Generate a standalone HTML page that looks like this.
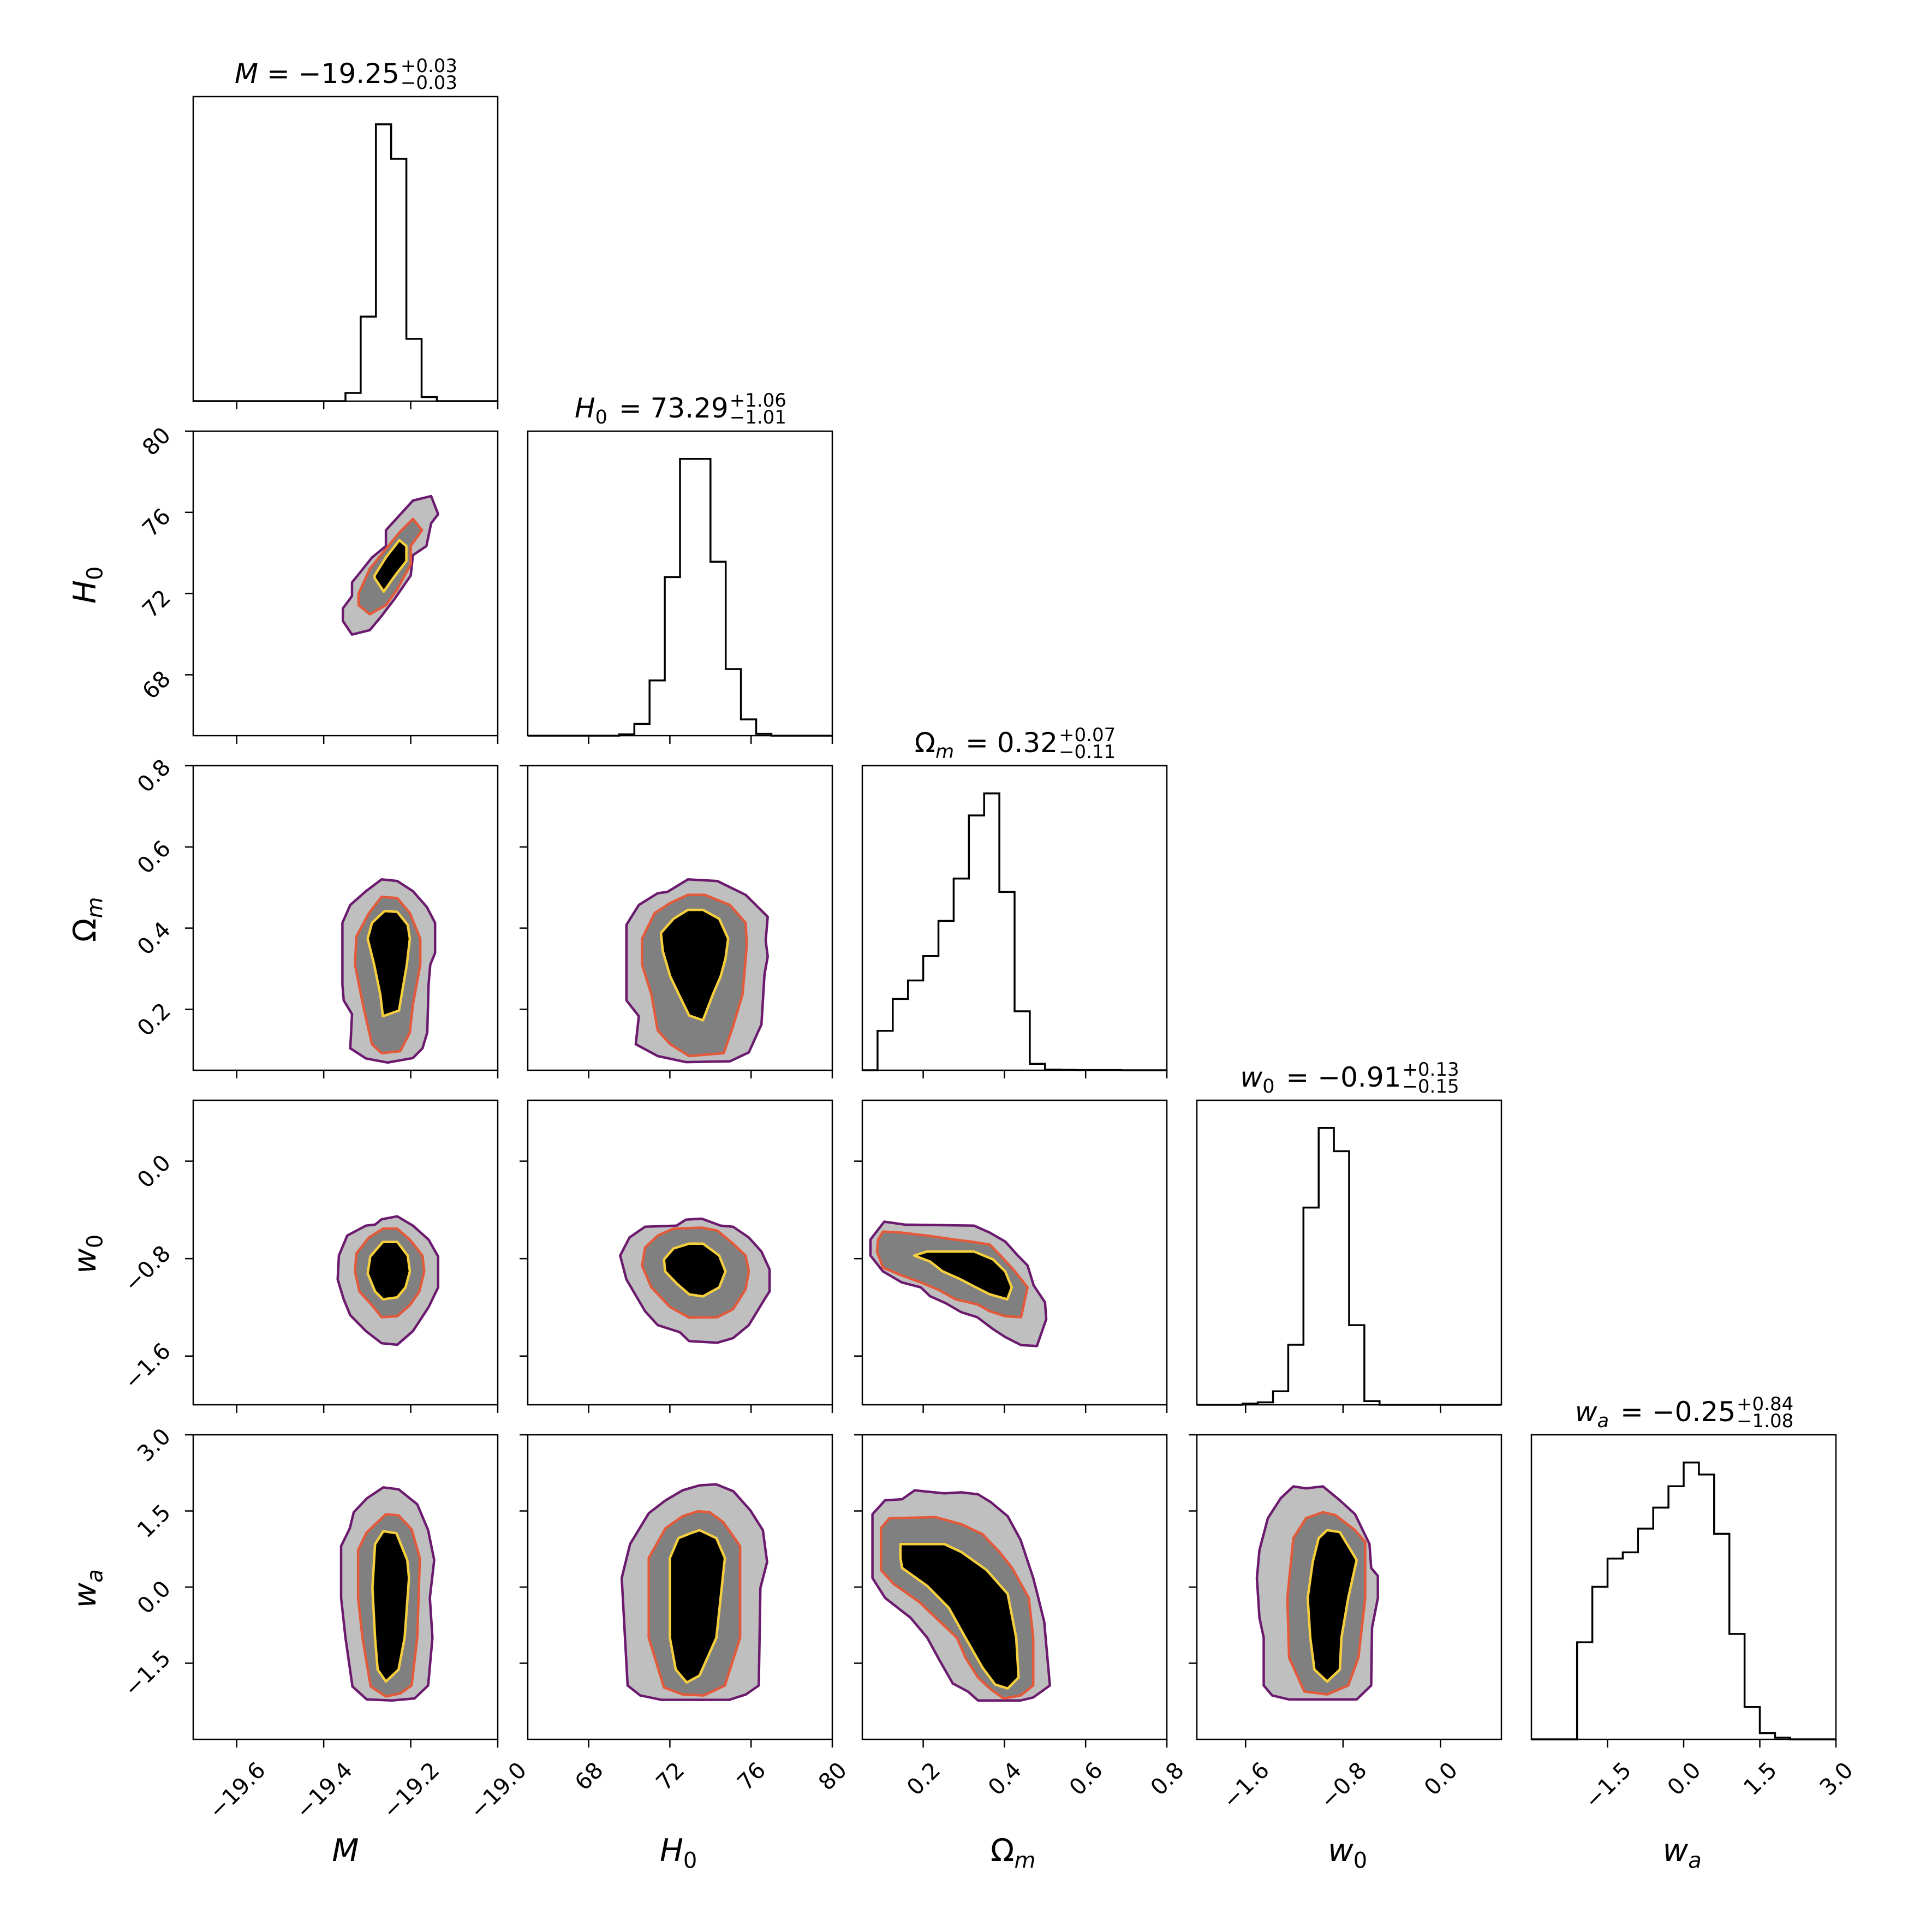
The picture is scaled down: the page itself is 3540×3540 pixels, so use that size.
<!DOCTYPE html>
<html><head><meta charset="utf-8"><style>
html,body{margin:0;padding:0;background:#fff;}
svg{display:block;font-family:"DejaVu Sans","Liberation Sans",sans-serif;}
</style></head><body>
<svg id="fig" xmlns="http://www.w3.org/2000/svg" width="3540" height="3540" viewBox="0 0 3540 3540">
<rect width="3540" height="3540" fill="#fff"/>
</svg>
<script>
// ---------- data ----------
const paramNames = ['M','H0','Om','w0','wa'];
const rangeMin = [-19.7, 65, 0.05, -2.0, -3.0];
const rangeMax = [-19.0, 80, 0.8, 0.5, 3.0];
const ticksM = [-19.6,-19.4,-19.2,-19.0];
const ticksH0 = [68,72,76,80];
const ticksOm = [0.2,0.4,0.6,0.8];
const ticksW0 = [-1.6,-0.8,0.0];
const ticksWa = [-1.5,0.0,1.5,3.0];
const tickLabelsM = ['\u221219.6','\u221219.4','\u221219.2','\u221219.0'];
const tickLabelsH0 = ['68','72','76','80'];
const tickLabelsOm = ['0.2','0.4','0.6','0.8'];
const tickLabelsW0 = ['\u22121.6','\u22120.8','0.0'];
const tickLabelsWa = ['\u22121.5','0.0','1.5','3.0'];
const histM = [0,0,0,0,0,0,0,0,0,0,18,186,609,533,137,9,0,0,0,0];
const histH0 = [0,0,0,0,0,0,3,26,122,350,611,611,384,147,36,4,0,0,0,0];
const histOm = [0,202,365,460,585,765,982,1305,1418,913,302,33,3,2,1,1,1,0,0,0];
const histW0 = [0,0,0,1,2,11,49,161,226,207,65,3,0,0,0,0,0,0,0,0];
const histWa = [0,0,0,282,443,525,543,612,673,735,804,769,597,306,94,18,5,0,0,0];
const titleValues = ['\u221219.25','73.29','0.32','\u22120.91','\u22120.25'];
const titleUpper = ['+0.03','+1.06','+0.07','+0.13','+0.84'];
const titleLower = ['\u22120.03','\u22121.01','\u22120.11','\u22120.15','\u22121.08'];

// contours [x,y] in data units; key row_col
const cH0M_outer=[[-19.356,71.27],[-19.335,71.88],[-19.335,72.55],[-19.322,72.89],[-19.289,73.78],[-19.257,74.34],[-19.257,75.12],[-19.195,76.58],[-19.153,76.80],[-19.137,75.91],[-19.153,75.46],[-19.164,74.34],[-19.195,73.89],[-19.200,72.89],[-19.236,71.77],[-19.268,70.87],[-19.294,70.20],[-19.335,69.98],[-19.356,70.65]];
const cH0M_mid=[[-19.320,71.99],[-19.294,73.22],[-19.226,75.01],[-19.195,75.68],[-19.174,75.12],[-19.200,74.34],[-19.200,73.44],[-19.231,72.21],[-19.257,71.43],[-19.294,70.98],[-19.320,71.43]];
const cH0M_in=[[-19.283,72.89],[-19.257,73.78],[-19.226,74.63],[-19.210,74.34],[-19.210,73.60],[-19.236,72.89],[-19.262,72.10],[-19.283,72.77]];

const cOmM_outer=[[-19.267,0.520],[-19.231,0.516],[-19.195,0.491],[-19.163,0.452],[-19.144,0.413],[-19.144,0.339],[-19.155,0.310],[-19.159,0.261],[-19.162,0.143],[-19.173,0.104],[-19.195,0.080],[-19.253,0.069],[-19.303,0.079],[-19.339,0.104],[-19.335,0.188],[-19.354,0.222],[-19.357,0.261],[-19.357,0.413],[-19.339,0.457],[-19.303,0.491]];
const cOmM_mid=[[-19.267,0.477],[-19.231,0.474],[-19.202,0.437],[-19.178,0.374],[-19.178,0.310],[-19.195,0.212],[-19.202,0.143],[-19.224,0.097],[-19.267,0.092],[-19.289,0.114],[-19.310,0.212],[-19.328,0.310],[-19.325,0.379],[-19.296,0.437]];
const cOmM_in=[[-19.260,0.442],[-19.231,0.440],[-19.207,0.408],[-19.202,0.374],[-19.209,0.310],[-19.227,0.197],[-19.264,0.183],[-19.270,0.237],[-19.284,0.310],[-19.299,0.374],[-19.289,0.413]];

const cOmH0_outer=[[72.89,0.520],[74.34,0.516],[75.73,0.482],[76.82,0.428],[76.72,0.369],[76.82,0.330],[76.66,0.286],[76.51,0.163],[75.89,0.094],[74.96,0.072],[72.79,0.070],[71.40,0.085],[70.32,0.114],[70.47,0.183],[69.86,0.222],[69.86,0.408],[70.47,0.457],[71.40,0.486],[71.87,0.489]];
const cOmH0_mid=[[72.89,0.482],[73.72,0.482],[74.96,0.457],[75.73,0.413],[75.79,0.359],[75.58,0.237],[75.11,0.158],[74.65,0.092],[72.95,0.085],[72.02,0.114],[71.40,0.148],[71.09,0.237],[70.63,0.310],[70.63,0.374],[71.25,0.437],[72.02,0.462]];
const cOmH0_in=[[72.89,0.445],[73.63,0.445],[74.43,0.423],[74.87,0.374],[74.74,0.325],[74.50,0.281],[74.12,0.237],[73.63,0.173],[72.95,0.185],[72.49,0.232],[72.02,0.281],[71.65,0.344],[71.56,0.388],[72.18,0.423]];

const cW0M_outer=[[-19.267,-0.477],[-19.231,-0.453],[-19.195,-0.529],[-19.159,-0.644],[-19.137,-0.783],[-19.137,-1.036],[-19.159,-1.199],[-19.195,-1.395],[-19.231,-1.507],[-19.267,-1.494],[-19.303,-1.395],[-19.339,-1.265],[-19.354,-1.134],[-19.368,-0.971],[-19.365,-0.775],[-19.346,-0.611],[-19.303,-0.529],[-19.282,-0.521]];
const cW0M_mid=[[-19.264,-0.554],[-19.231,-0.554],[-19.202,-0.644],[-19.173,-0.775],[-19.169,-0.905],[-19.180,-1.069],[-19.202,-1.183],[-19.231,-1.273],[-19.267,-1.281],[-19.289,-1.183],[-19.318,-1.069],[-19.328,-0.905],[-19.325,-0.758],[-19.296,-0.627]];
const cW0M_in=[[-19.264,-0.663],[-19.231,-0.663],[-19.207,-0.775],[-19.202,-0.905],[-19.212,-1.036],[-19.231,-1.118],[-19.264,-1.134],[-19.282,-1.069],[-19.299,-0.922],[-19.293,-0.783]];

const cW0H0_outer=[[72.33,-0.529],[72.79,-0.480],[73.57,-0.472],[74.50,-0.529],[75.11,-0.538],[75.89,-0.627],[76.51,-0.742],[76.91,-0.889],[76.91,-1.069],[76.66,-1.134],[75.89,-1.346],[75.11,-1.453],[74.34,-1.490],[72.95,-1.477],[72.49,-1.404],[71.40,-1.346],[70.78,-1.232],[69.86,-0.971],[69.55,-0.775],[70.01,-0.627],[70.78,-0.538]];
const cW0H0_mid=[[72.18,-0.554],[73.57,-0.546],[74.34,-0.570],[75.11,-0.677],[75.73,-0.775],[75.89,-0.905],[75.73,-1.052],[75.11,-1.216],[74.34,-1.281],[72.95,-1.284],[72.02,-1.199],[71.09,-1.036],[70.63,-0.856],[70.78,-0.709],[71.40,-0.611]];
const cW0H0_in=[[72.95,-0.677],[73.63,-0.677],[74.43,-0.775],[74.74,-0.905],[74.43,-1.036],[73.63,-1.110],[72.95,-1.093],[72.33,-1.003],[71.77,-0.905],[71.71,-0.807],[72.18,-0.717]];

const cW0Om_outer=[[0.104,-0.497],[0.155,-0.521],[0.325,-0.529],[0.364,-0.587],[0.402,-0.660],[0.433,-0.775],[0.457,-0.856],[0.472,-1.020],[0.500,-1.159],[0.503,-1.297],[0.480,-1.518],[0.441,-1.510],[0.402,-1.444],[0.372,-1.379],[0.333,-1.281],[0.294,-1.240],[0.256,-1.167],[0.217,-1.109],[0.194,-1.036],[0.147,-0.995],[0.101,-0.905],[0.070,-0.775],[0.070,-0.644]];
const cW0Om_mid=[[0.101,-0.578],[0.147,-0.587],[0.209,-0.611],[0.278,-0.644],[0.317,-0.660],[0.364,-0.685],[0.395,-0.791],[0.426,-0.905],[0.457,-1.036],[0.441,-1.281],[0.402,-1.273],[0.364,-1.232],[0.333,-1.175],[0.279,-1.134],[0.240,-1.060],[0.194,-0.995],[0.147,-0.938],[0.101,-0.873],[0.086,-0.742],[0.089,-0.644]];
const cW0Om_in=[[0.178,-0.775],[0.209,-0.742],[0.325,-0.742],[0.372,-0.807],[0.402,-0.905],[0.418,-1.036],[0.407,-1.134],[0.364,-1.093],[0.325,-1.028],[0.287,-0.962],[0.248,-0.905],[0.217,-0.824]];

const cWaM_outer=[[-19.263,1.965],[-19.228,1.926],[-19.185,1.632],[-19.160,1.120],[-19.146,0.532],[-19.156,-0.213],[-19.150,-0.998],[-19.160,-1.939],[-19.191,-2.194],[-19.243,-2.233],[-19.301,-2.214],[-19.334,-1.959],[-19.350,-0.998],[-19.360,-0.213],[-19.360,0.806],[-19.340,1.159],[-19.331,1.473],[-19.301,1.747]];
const cWaM_mid=[[-19.257,1.434],[-19.228,1.414],[-19.198,1.139],[-19.179,0.571],[-19.185,-0.998],[-19.198,-1.939],[-19.224,-2.096],[-19.257,-2.155],[-19.292,-1.959],[-19.311,-0.998],[-19.321,-0.213],[-19.321,0.728],[-19.301,1.081]];
const cWaM_in=[[-19.263,1.100],[-19.233,1.061],[-19.208,0.532],[-19.204,0.179],[-19.214,-0.998],[-19.228,-1.625],[-19.257,-1.861],[-19.276,-1.625],[-19.282,-0.998],[-19.288,-0.017],[-19.282,0.845]];

const cWaH0_outer=[[73.46,2.004],[74.29,2.024],[75.13,1.887],[75.96,1.514],[76.58,1.122],[76.79,0.494],[76.46,-0.016],[76.38,-1.939],[75.75,-2.115],[74.92,-2.221],[71.58,-2.221],[70.54,-2.135],[69.92,-1.939],[69.79,-0.998],[69.63,0.180],[70.04,0.847],[70.96,1.455],[71.79,1.710],[72.63,1.906]];
const cWaH0_mid=[[73.38,1.494],[73.96,1.475],[74.63,1.278],[75.46,0.808],[75.46,-0.998],[74.71,-1.939],[73.67,-2.135],[72.63,-2.115],[71.71,-1.978],[70.96,-0.998],[70.96,0.573],[71.79,1.161],[72.63,1.396]];
const cWaH0_in=[[73.46,1.122],[74.29,0.965],[74.71,0.573],[74.29,-0.998],[73.46,-1.743],[72.83,-1.880],[72.29,-1.625],[72.00,-0.998],[72.00,0.573],[72.42,0.965],[73.04,1.063]];

const cWaOm_outer=[[0.106,1.710],[0.148,1.730],[0.179,1.906],[0.252,1.847],[0.294,1.867],[0.335,1.828],[0.367,1.671],[0.408,1.396],[0.440,0.925],[0.471,0.180],[0.481,-0.134],[0.498,-0.683],[0.512,-1.939],[0.471,-2.174],[0.440,-2.233],[0.335,-2.233],[0.310,-2.057],[0.273,-1.900],[0.242,-1.468],[0.210,-0.998],[0.169,-0.605],[0.106,-0.213],[0.075,0.180],[0.075,1.436]];
const cWaOm_mid=[[0.117,1.357],[0.231,1.377],[0.294,1.239],[0.346,1.043],[0.388,0.690],[0.419,0.376],[0.460,-0.213],[0.471,-0.998],[0.471,-1.939],[0.440,-2.135],[0.398,-2.194],[0.367,-2.018],[0.335,-1.782],[0.304,-1.390],[0.283,-0.998],[0.231,-0.605],[0.190,-0.291],[0.127,0.062],[0.096,0.337],[0.096,1.161]];
const cWaOm_in=[[0.144,0.847],[0.210,0.847],[0.252,0.847],[0.294,0.690],[0.356,0.337],[0.408,-0.134],[0.429,-0.998],[0.435,-1.782],[0.408,-1.998],[0.377,-1.919],[0.346,-1.586],[0.304,-0.998],[0.263,-0.409],[0.210,0.023],[0.148,0.376],[0.144,0.573]];

const cWaW0_outer=[[-1.208,1.984],[-1.104,1.945],[-0.965,1.984],[-0.826,1.710],[-0.701,1.436],[-0.583,0.847],[-0.569,0.376],[-0.514,0.219],[-0.514,-0.213],[-0.562,-0.801],[-0.569,-1.939],[-0.688,-2.214],[-1.243,-2.214],[-1.382,-2.135],[-1.451,-1.939],[-1.451,-0.998],[-1.486,-0.605],[-1.507,0.180],[-1.486,0.729],[-1.417,1.357],[-1.312,1.749]];
const cWaW0_mid=[[-0.965,1.475],[-0.861,1.416],[-0.701,1.122],[-0.618,0.886],[-0.618,-0.213],[-0.674,-1.390],[-0.757,-1.939],[-0.930,-2.115],[-1.118,-2.057],[-1.243,-1.390],[-1.257,-0.213],[-1.208,0.965],[-1.104,1.357]];
const cWaW0_in=[[-0.930,1.122],[-0.826,1.083],[-0.688,0.533],[-0.757,-0.213],[-0.813,-0.998],[-0.826,-1.625],[-0.930,-1.861],[-1.035,-1.625],[-1.069,-0.998],[-1.090,-0.213],[-1.049,0.494],[-1.000,0.965]];

// ---------- layout ----------
const NS='http://www.w3.org/2000/svg';
const svg=document.getElementById('fig');
const L0=354, T0=177, PITCH=613, SZ=558;
const TICKS=[ticksM,ticksH0,ticksOm,ticksW0,ticksWa];
const TLAB=[tickLabelsM,tickLabelsH0,tickLabelsOm,tickLabelsW0,tickLabelsWa];
const HISTS=[histM,histH0,histOm,histW0,histWa];
const CONTOURS={
 '1_0':[cH0M_outer,cH0M_mid,cH0M_in],
 '2_0':[cOmM_outer,cOmM_mid,cOmM_in],'2_1':[cOmH0_outer,cOmH0_mid,cOmH0_in],
 '3_0':[cW0M_outer,cW0M_mid,cW0M_in],'3_1':[cW0H0_outer,cW0H0_mid,cW0H0_in],'3_2':[cW0Om_outer,cW0Om_mid,cW0Om_in],
 '4_0':[cWaM_outer,cWaM_mid,cWaM_in],'4_1':[cWaH0_outer,cWaH0_mid,cWaH0_in],'4_2':[cWaOm_outer,cWaOm_mid,cWaOm_in],'4_3':[cWaW0_outer,cWaW0_mid,cWaW0_in]
};
const TICKFS=41;
function el(tag,attrs,parent){const e=document.createElementNS(NS,tag);for(const k in attrs)e.setAttribute(k,attrs[k]);(parent||svg).appendChild(e);return e;}
function xAxis(c){const x0=L0+c*PITCH;return v=>x0+(v-rangeMin[c])/(rangeMax[c]-rangeMin[c])*SZ;}
function yAxis(r){const y0=T0+r*PITCH;return v=>y0+SZ-(v-rangeMin[r])/(rangeMax[r]-rangeMin[r])*SZ;}

function addSymbol(t,i,fs){
 const sub=Math.round(fs*0.7);
 function ts(txt,attrs){const s=el('tspan',attrs||{},t);s.textContent=txt;return s;}
 if(i===0){ts('M',{'font-style':'italic'});}
 else if(i===1){ts('H',{'font-style':'italic'});ts('0',{'font-size':sub,dy:fs*0.22});ts('\u200a',{dy:-fs*0.22});}
 else if(i===2){ts('\u03a9');ts('m',{'font-style':'italic','font-size':sub,dy:fs*0.22});ts('\u200a',{dy:-fs*0.22});}
 else if(i===3){ts('w',{'font-style':'italic'});ts('0',{'font-size':sub,dy:fs*0.22});ts('\u200a',{dy:-fs*0.22});}
 else {ts('w',{'font-style':'italic'});ts('a',{'font-style':'italic','font-size':sub,dy:fs*0.22});ts('\u200a',{dy:-fs*0.22});}
}

for(let r=0;r<5;r++){
 for(let c=0;c<=r;c++){
  const g=el('g',{});
  
  
  const x0=L0+c*PITCH, y0=T0+r*PITCH;
  const X=xAxis(c);
  if(r===c){
   const h=HISTS[c]; const mx=Math.max(...h)*1.1;
   const nb=h.length, bw=(rangeMax[c]-rangeMin[c])/nb;
   const Y=v=>y0+SZ-v/mx*SZ;
   let d='M'+X(rangeMin[c])+','+Y(0);
   for(let i=0;i<nb;i++){const a=rangeMin[c]+i*bw,b=a+bw;d+=' L'+X(a)+','+Y(h[i])+' L'+X(b)+','+Y(h[i]);}
   d+=' L'+X(rangeMax[c])+','+Y(0);
   const p=el('path',{d:d,fill:'none',stroke:'#000','stroke-width':3.5,'stroke-linejoin':'miter'},g);
   
   
   const tt=el('text',{x:0,y:y0-25,'font-size':50,fill:'#000'},g);
   
   
   addSymbol(tt,c,50);
   const tv=el('tspan',{},tt); tv.textContent=' = '+titleValues[c];
   const w1=tt.getComputedTextLength();
   const up=el('text',{x:0,y:y0-45,'font-size':34},g); up.textContent=titleUpper[c];
   
   
   const lo=el('text',{x:0,y:y0-14,'font-size':34},g); lo.textContent=titleLower[c];
   
   
   const w2=Math.max(up.getComputedTextLength(),lo.getComputedTextLength());
   const sx=x0+SZ/2-(w1+w2)/2;
   tt.setAttribute('x',sx); up.setAttribute('x',sx+w1+2); lo.setAttribute('x',sx+w1+2);
  } else {
   const Y=yAxis(r);
   const cs=CONTOURS[r+'_'+c];
   const fills=['#bfbfbf','#808080','#000000'];
   const strokes=['#6b1a6e','#e4593a','#f6d03c'];
   const names=['outer','middle','inner'];
   const pts=cs.map(arr=>arr.map(p=>X(p[0]).toFixed(1)+','+Y(p[1]).toFixed(1)).join(' '));
   for(let k=0;k<3;k++){
    const f=el('polygon',{points:pts[k],fill:fills[k],stroke:'none'},g);
    
    
   }
   for(let k=0;k<3;k++){
    const s=el('polygon',{points:pts[k],fill:'none',stroke:strokes[k],'stroke-width':4.5,'stroke-linejoin':'round'},g);
    
    
   }
   TICKS[r].forEach((v,i)=>{
    const yy=Y(v);
    const tk=el('line',{x1:x0,x2:x0-15,y1:yy,y2:yy,stroke:'#000','stroke-width':2.5},g);
    
    
    if(c===0){
     const t=el('text',{'font-size':TICKFS,'text-anchor':'end'},g);
     t.textContent=TLAB[r][i];
     
     
     const w=t.getComputedTextLength();
     const ax=x0-39, ay=yy+18-(0.707*w-21)/2;
     t.setAttribute('transform','translate('+ax+','+ay+') rotate(-45)');
    }
   });
  }
  const fr=el('rect',{x:x0,y:y0,width:SZ,height:SZ,fill:'none',stroke:'#000','stroke-width':2.5},g);
  
  
  TICKS[c].forEach((v,i)=>{
   const xx=X(v);
   const tk=el('line',{x1:xx,x2:xx,y1:y0+SZ,y2:y0+SZ+15,stroke:'#000','stroke-width':2.5},g);
   
   
   if(r===4){
    const t=el('text',{'font-size':TICKFS,'text-anchor':'end'},g);
    t.textContent=TLAB[c][i];
    
    
    const w=t.getComputedTextLength();
    const ax=xx+(0.707*w+21)/2, ay=y0+SZ+59;
    t.setAttribute('transform','translate('+ax+','+ay+') rotate(-45)');
   }
  });
 }
}
for(let c=0;c<5;c++){
 const t=el('text',{x:L0+c*PITCH+SZ/2,y:3410,'font-size':57,'text-anchor':'middle'});
 
 
 addSymbol(t,c,57);
}
for(let r=1;r<5;r++){
 const cy=T0+r*PITCH+SZ/2;
 const t=el('text',{'font-size':57,'text-anchor':'middle',transform:'translate(175,'+cy+') rotate(-90)'});
 
 
 addSymbol(t,r,57);
}
</script>
</body></html>
